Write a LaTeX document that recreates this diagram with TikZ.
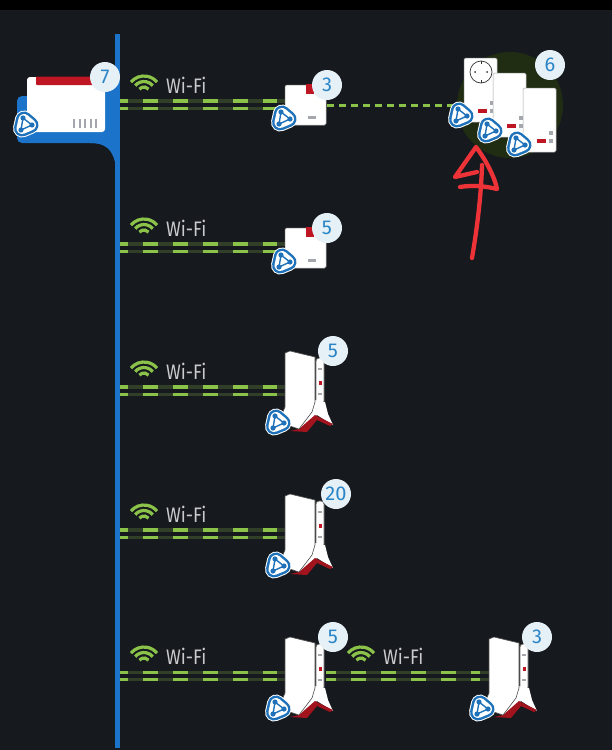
\documentclass[tikz,border=0pt]{standalone}
\usepackage{fontspec}
\setmainfont{Fira Sans}
\definecolor{screenbg}{HTML}{16191D}
\definecolor{barblue}{HTML}{1B74C9}
\definecolor{iconblue}{HTML}{1F72BA}
\definecolor{badgefill}{HTML}{E6F0F7}
\definecolor{badgetext}{HTML}{2A85C6}
\definecolor{linkgreen}{HTML}{8BC34A}
\definecolor{trackgreen}{HTML}{323F28}
\definecolor{glowgreen}{HTML}{212D13}
\definecolor{boxred}{HTML}{BE1622}
\definecolor{penred}{HTML}{EE3338}
\definecolor{tickgray}{HTML}{A4A8AC}
\definecolor{labelgray}{HTML}{C9CBCE}
\tikzset{
  badge/.style={circle,fill=badgefill,text=badgetext,minimum size=30pt,inner sep=0pt,font=\fontsize{20}{20}\selectfont},
  wifitext/.style={text=labelgray,inner sep=0pt,font=\fontsize{21}{21}\selectfont},
  linktrack/.style={trackgreen,line width=3.4pt},
  linkdash/.style={linkgreen,line width=3.4pt,dash pattern=on 15pt off 15pt},
  whitebox/.style={fill=white,draw=black!35,line width=.5pt,rounded corners=1.5pt},
  penstroke/.style={penred,line width=4.3pt,line cap=round,line join=round},
  pics/meshicon/.style={code={
    \draw[white,line width=18pt,line join=round,fill=white] (-2,-4.5) -- (4.5,1) -- (-4,4.5) -- cycle;
    \draw[iconblue,line width=16pt,line join=round,fill=iconblue] (-2,-4.5) -- (4.5,1) -- (-4,4.5) -- cycle;
    \draw[white,line width=11pt,line join=round,fill=white] (-2,-4.5) -- (4.5,1) -- (-4,4.5) -- cycle;
    \draw[iconblue,line width=1.4pt] (-3,-6) -- (6,1) -- (-5,6) -- cycle;
    \foreach \p in {(-3,-6),(6,1),(-5,6)}{
      \fill[iconblue] \p circle (2.6);
    }
  }},
  pics/wifisign/.style={code={
    \foreach \r in {6,11.5,17}{
      \draw[linkgreen,line width=3.2pt] (-140:\r) arc[start angle=-140,end angle=-40,radius=\r];
    }
  }},
  pics/cubebox/.style={code={
    \draw[whitebox] (0,0) rectangle (41,40);
    \fill[boxred] (21,-1) rectangle (29,9);
    \fill[tickgray] (23,31) rectangle (31,34);
  }},
  pics/plugbox/.style={code={
    \draw[whitebox] (0,0) rectangle (33,64);
    \fill[boxred] (14,51) rectangle (23,55);
    \fill[tickgray] (26,43) rectangle (30,47);
    \fill[tickgray] (26,51) rectangle (30,55);
  }},
  pics/repeaterbox/.style={code={
    \draw[fill=white,draw=black!60,rounded corners=3pt,line width=.8pt] (30,6) rectangle (38,52);
    \fill[boxred] (32.5,29) rectangle (35.5,33);
    \fill[tickgray] (32,16) rectangle (36,18);
    \fill[tickgray] (32,41) rectangle (36,43);
    \fill[white] (29,48) -- (39,50) -- (42,62) -- (47,73) -- (31,63) -- (13,78) -- cycle;
    \fill[boxred!85!black] (4,79) -- (13,77) -- (29,63) -- (47,72) -- (44,74) -- (31,68) -- (21,80) -- cycle;
    \draw[fill=white,draw=black!70,line width=.6pt,line join=round] (-1,1) -- (4,-1) -- (29,5) -- (29,50) -- (26,60) -- (13,77) -- (4,74) -- (-4,62) -- (-1,55) -- cycle;
  }}
}
\newcommand{\wifilink}[4]{
  \foreach \dy in {-3.7,3.7}{
    \draw[linktrack] ([yshift=\dy pt]#1) -- ([yshift=\dy pt]#2);
    \draw[linkdash,dash phase=#3] ([yshift=\dy pt]#1) -- ([xshift=#4 pt,yshift=\dy pt]#1);
  }
}
\begin{document}
\begin{tikzpicture}[x=1pt,y=-1pt]
  \useasboundingbox (0,0) rectangle (612,750);
  \fill[screenbg] (0,0) rectangle (612,750);
  \fill[black] (0,0) rectangle (612,10);

  \fill[glowgreen] (510,105) circle (53);

  \fill[barblue] (115,34) rectangle (120,748);
  \fill[barblue,rounded corners=5pt] (17,143) -- (17,96) -- (60,96) -- (60,85) -- (116,85) -- (116,143) -- cycle;
  \fill[barblue] (90,143) .. controls (106,143) and (112,150) .. (115,162) -- (118,162) -- (118,130) -- (90,130) -- cycle;

  \coordinate (bar1) at (120,104.5);
  \coordinate (bar2) at (120,247.5);
  \coordinate (bar3) at (120,390.5);
  \coordinate (bar4) at (120,533.5);
  \coordinate (bar5) at (120,676);
  \coordinate (dev1) at (287,104.5);
  \coordinate (dev2) at (287,247.5);
  \coordinate (dev3) at (287,390.5);
  \coordinate (dev4) at (287,533.5);
  \coordinate (dev5) at (287,676);
  \coordinate (devb) at (326,676);
  \coordinate (devc) at (491,676);
  \coordinate (cubeout) at (327,105);
  \coordinate (plugin) at (452,105);

  \foreach \n in {1,...,5}{
    \wifilink{bar\n}{dev\n}{7}{157}
  }
  \wifilink{devb}{devc}{5}{154}
  \draw[linkgreen,line width=3pt,dash pattern=on 7pt off 5pt] (cubeout) -- (plugin);

  \foreach \x/\y/\k in {144/93/a,144/236/b,144/379/c,144/522/d,144/664/e,361/664/f}{
    \pic at (\x,\y) {wifisign};
    \node[wifitext,anchor=base west] (wifi\k) at (\x+22,\y) {\scalebox{.85}[1]{Wi-Fi}};
  }

  \draw[fill=white,rounded corners=3pt,draw=none] (27,77) rectangle (105,132);
  \fill[boxred,rounded corners=1pt] (36,76.5) rectangle (96,85);
  \foreach \x in {73,78.5,84,89.5,95}{
    \fill[tickgray] (\x,119) rectangle (\x+2.4,128);
  }
  \pic at (26,124) {meshicon};
  \node[badge] (router) at (105,77) {7};

  \foreach \y/\n in {85/3,228/5}{
    \pic at (285,\y) {cubebox};
    \pic at (284,\y+33) {meshicon};
    \node[badge] (cube\y) at (327,\y) {\n};
  }

  \foreach \x/\y/\bx/\k/\n in {286/352/333/c/5,286/495/336/d/20,286/638/333/e/5,490/638/537/f/3}{
    \pic at (\x,\y) {repeaterbox};
    \pic at (\x-8,\y+70) {meshicon};
    \node[badge] (rep\k) at (\bx,\y-1) {\n};
  }

  \foreach \x/\y in {464/58,493/73,523/88}{
    \pic at (\x,\y) {plugbox};
  }
  \draw[black!80,line width=.7pt] (481,72) circle (11);
  \draw[black!80,line width=.7pt] (481,61) -- (481,64) (481,80) -- (481,83);
  \fill[black!80] (475,72) circle (1) (487,72) circle (1);
  \pic at (461,115) {meshicon};
  \pic at (490,130) {meshicon};
  \pic at (519,144) {meshicon};
  \node[badge] (plugs) at (550,65) {6};

  \draw[penstroke] (472,258) .. controls (476,235) and (481,200) .. (482,165);
  \draw[penstroke] (477,172) -- (455,177) -- (476,147) .. controls (486,160) and (495,178) .. (497,189) .. controls (485,186) and (472,185) .. (460,187);
\end{tikzpicture}
\end{document}
